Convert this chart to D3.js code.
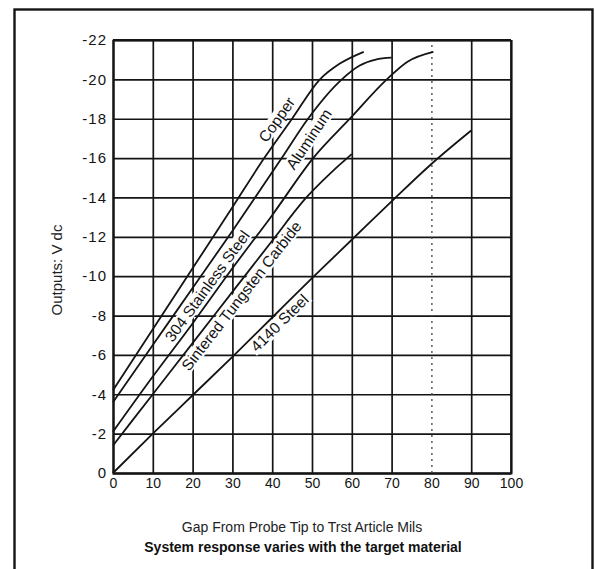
<!DOCTYPE html>
<html>
<head>
<meta charset="utf-8">
<script src="https://cdn.jsdelivr.net/npm/d3@7/dist/d3.min.js"></script>
<style>
  html, body { margin: 0; padding: 0; background: #fff; }
  svg { display: block; font-family: "Liberation Sans", Arial, sans-serif; }
</style>
</head>
<body>
<svg id="chart" width="595" height="569"></svg>
<script>
// Probe output (V dc) against gap (mils) for several target materials
const gapTicks = [0, 10, 20, 30, 40, 50, 60, 70, 80, 90, 100];
const voltTicks = [0, -2, -4, -6, -8, -10, -12, -14, -16, -18, -20, -22];

const materials = ["Copper", "Aluminum", "304 Stainless Steel", "Sintered Tungsten Carbide", "4140 Steel"];

// [gap in mils, output in V dc]
const copper = [[0, -4.2], [10, -7.3], [20, -10.4], [30, -13.5], [38, -16], [45, -18], [52, -20], [57, -20.8], [63, -21.4]];
const aluminum = [[0, -3.6], [10, -6.5], [20, -9.4], [30, -12.3], [42.4, -16], [49, -18], [57.5, -20], [62, -20.7], [66, -21.0], [70, -21.1]];
const stainless304 = [[0, -2.1], [10, -4.9], [20, -7.6], [30, -10.4], [40, -13.1], [50.3, -16], [59.5, -18], [68.8, -20], [74, -20.9], [80.5, -21.4]];
const tungstenCarbide = [[0, -1.4], [10, -4.0], [20, -6.6], [30, -9.2], [40, -11.8], [48.6, -14], [55, -15.3], [60, -16.2]];
const steel4140 = [[0, 0], [10, -2], [20, -3.95], [30, -5.9], [40, -7.9], [50, -9.9], [60, -11.85], [70, -13.8], [80, -15.7], [90, -17.4]];

const seriesList = [copper, aluminum, stainless304, tungstenCarbide, steel4140];

// each name rides along a curve: which curve, at what output level,
// on which side (+1 right/below, -1 left/above) and how far off it (px)
const labelCurve = [0, 1, 2, 3, 4];
const labelVolts = [-17.6, -17.3, -9.2, -9.3, -7.95];
const labelSide = [-1, 1, -1, 1, 1];
const labelOffset = [12, 12, 10, 9.5, 9];

const svg = d3.select("#chart");
const ink = "#141414";

// outer frame
svg.append("rect")
  .attr("x", 14.5).attr("y", 9.5)
  .attr("width", 578).attr("height", 620)
  .attr("fill", "none").attr("stroke", ink).attr("stroke-width", 2.4);

const x = d3.scaleLinear().domain([0, 100]).range([113, 511]);
const y = d3.scaleLinear().domain([0, -22]).range([473, 40]);

const plotW = x.range()[1] - x.range()[0];
const plotH = y.range()[0] - y.range()[1];

// horizontal grid + y tick labels
const yAxis = svg.append("g")
  .attr("transform", `translate(${x(0)},0)`)
  .call(d3.axisLeft(y).tickValues(voltTicks).tickSize(-plotW).tickPadding(6)
    .tickFormat(d => d === 0 ? "0" : "-" + Math.abs(d)));
yAxis.select(".domain").attr("stroke", ink).attr("stroke-width", 1.8);
yAxis.selectAll(".tick line").attr("stroke", ink).attr("stroke-width", 1.7);
yAxis.selectAll(".tick text")
  .attr("fill", ink).attr("font-size", 15).attr("letter-spacing", 1)
  .style("font-family", "'Liberation Sans', Arial, sans-serif");

// vertical grid + x tick labels
const xAxis = svg.append("g")
  .attr("transform", `translate(0,${y(0)})`)
  .call(d3.axisBottom(x).tickValues(gapTicks).tickSize(-plotH).tickPadding(5));
xAxis.select(".domain").attr("stroke", ink).attr("stroke-width", 1.8);
xAxis.selectAll(".tick line").attr("stroke", ink).attr("stroke-width", 1.7);
xAxis.selectAll(".tick line").filter(d => d === 80)
  .attr("stroke", "#444").attr("stroke-width", 1.3).attr("stroke-dasharray", "2,4");
xAxis.selectAll(".tick text")
  .attr("fill", ink).attr("font-size", 14)
  .style("font-family", "'Liberation Sans', Arial, sans-serif");

// plot border on top and right
svg.append("line").attr("x1", x(0)).attr("x2", x(100)).attr("y1", y(-22)).attr("y2", y(-22))
  .attr("stroke", ink).attr("stroke-width", 1.8);
svg.append("line").attr("x1", x(100)).attr("x2", x(100)).attr("y1", y(-22)).attr("y2", y(0))
  .attr("stroke", ink).attr("stroke-width", 1.6);

// find the screen point and direction of a curve at a given output level
function pointOnCurve(series, volts) {
  const pts = series.map(d => [x(d[0]), y(d[1])]);
  const py = y(volts);
  for (let k = 1; k < pts.length; k++) {
    const a = pts[k - 1], b = pts[k];
    if ((py <= a[1] && py >= b[1]) || (py >= a[1] && py <= b[1])) {
      const t = (py - a[1]) / (b[1] - a[1]);
      return { px: a[0] + t * (b[0] - a[0]), py, dx: b[0] - a[0], dy: b[1] - a[1] };
    }
  }
  return null;
}

// material names with a white backing that breaks the grid
const labels = svg.append("g");
materials.forEach((name, i) => {
  const p = pointOnCurve(seriesList[labelCurve[i]], labelVolts[i]);
  const len = Math.hypot(p.dx, p.dy);
  // right-hand normal of an up-right running line points right/down
  const nx = -p.dy / len, ny = p.dx / len;
  const cx = p.px + labelSide[i] * labelOffset[i] * nx;
  const cy = p.py + labelSide[i] * labelOffset[i] * ny;
  const ang = Math.atan2(p.dy, p.dx) * 180 / Math.PI;
  const g = labels.append("g")
    .attr("transform", `translate(${cx},${cy}) rotate(${ang})`);
  const t = g.append("text")
    .attr("text-anchor", "middle").attr("dy", "0.35em")
    .attr("font-size", 15.5).attr("fill", ink)
    .text(name);
  const bb = t.node().getBBox();
  g.insert("rect", "text")
    .attr("x", bb.x - 2).attr("y", bb.y + 1)
    .attr("width", bb.width + 4).attr("height", bb.height - 2)
    .attr("fill", "#fff");
});

// response curves
const line = d3.line().x(d => x(d[0])).y(d => y(d[1])).curve(d3.curveMonotoneX);
svg.append("g").selectAll("path")
  .data(seriesList)
  .join("path")
  .attr("d", line)
  .attr("fill", "none")
  .attr("stroke", ink)
  .attr("stroke-width", 1.8);

// axis titles
svg.append("text")
  .attr("transform", "translate(62,270) rotate(-90)")
  .attr("text-anchor", "middle")
  .attr("font-size", 15).attr("fill", "#222")
  .text("Outputs: V dc");

svg.append("text")
  .attr("x", 302).attr("y", 532)
  .attr("text-anchor", "middle")
  .attr("font-size", 14).attr("fill", "#222")
  .text("Gap From Probe Tip to Trst Article Mils");

svg.append("text")
  .attr("x", 303).attr("y", 552)
  .attr("text-anchor", "middle")
  .attr("font-size", 14).attr("font-weight", "bold").attr("fill", "#111")
  .text("System response varies with the target material");
</script>
</body>
</html>
